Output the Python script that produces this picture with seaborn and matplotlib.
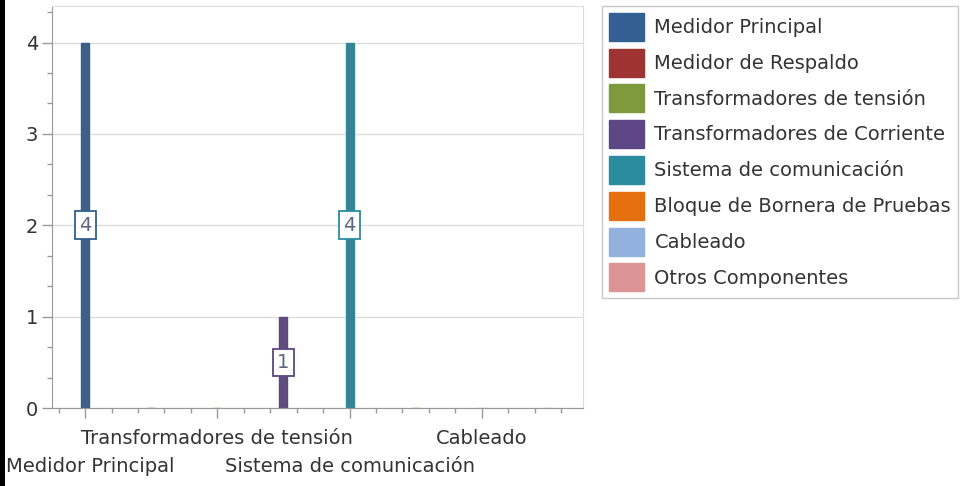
import numpy as np
import pandas as pd
import matplotlib
matplotlib.use('Agg')
import matplotlib.pyplot as plt
import matplotlib.transforms as mtrans
from matplotlib.ticker import MultipleLocator, FixedLocator
from matplotlib.patches import Rectangle
import seaborn as sns

# data
categorias = ['Medidor Principal', 'Medidor de Respaldo', 'Transformadores de tensión',
              'Transformadores de Corriente', 'Sistema de comunicación',
              'Bloque de Bornera de Pruebas', 'Cableado', 'Otros Componentes']
valores = [4, 0, 0, 1, 4, 0, 0, 0]
colores = ['#335f92', '#9e3431', '#7e9a3c', '#5d4684', '#2b8ca0', '#e5700f', '#93b1dd', '#dc9594']
ticks_x = [0, 2, 4, 6]
etiquetas_x = ['Medidor Principal', 'Transformadores de tensión', 'Sistema de comunicación', 'Cableado']

df = pd.DataFrame({'categoria': categorias, 'valor': valores})

sns.set_style('white')
plt.rcParams['font.family'] = ['DejaVu Sans']
fs = 14

fig = plt.figure(figsize=(9.73, 4.86), dpi=100)
ax = fig.add_axes([52 / 973, 1 - 408 / 486, (583 - 52) / 973, (408 - 6) / 486])

sns.barplot(data=df, x='categoria', y='valor', hue='categoria', order=categorias,
            hue_order=categorias, palette=colores, dodge=False, width=0.12,
            legend=False, ax=ax)
for p, c in zip(ax.patches, colores):
    p.set_edgecolor(c)
    p.set_linewidth(1)

# value boxes in the middle of each bar
for i, (v, c) in enumerate(zip(valores, colores)):
    if v > 0:
        ax.text(i, v / 2, str(v), ha='center', va='center', fontsize=fs, color='#5a6680',
                bbox=dict(boxstyle='square,pad=0.22', fc='white', ec=c, lw=1.3))

ax.set_xlim(-0.5, 7.53)
ax.set_ylim(0, 4.4)
ax.set_xlabel('')
ax.set_ylabel('')

ax.yaxis.set_major_locator(FixedLocator([0, 1, 2, 3, 4]))
ax.yaxis.set_minor_locator(MultipleLocator(1 / 3))
ax.xaxis.set_major_locator(FixedLocator(ticks_x))
ax.xaxis.set_minor_locator(MultipleLocator(0.4))
ax.set_xticklabels([''] * len(ticks_x))

# staggered category labels (two rows); first one is kept inside the image like the original
trans = mtrans.blended_transform_factory(ax.transData, ax.transAxes)
for k, (xt, t) in enumerate(zip(ticks_x, etiquetas_x)):
    if k == 0:
        fig.text(6 / 973, 1 - 466 / 486, t, ha='left', va='center', fontsize=fs, color='#333333')
        continue
    yy = -58 / 402 if k % 2 == 0 else -30 / 402
    ax.text(xt, yy, t, transform=trans, ha='center', va='center', fontsize=fs, color='#333333')

ax.tick_params(axis='x', which='major', length=7, width=1, color='#999999', direction='out')
ax.tick_params(axis='x', which='minor', length=3.5, width=1, color='#999999', direction='out')
ax.tick_params(axis='y', which='major', length=7, width=1, color='#999999', direction='out',
               labelcolor='#333333', labelsize=fs, pad=3)
ax.tick_params(axis='y', which='minor', length=3.5, width=1, color='#999999', direction='out')
ax.tick_params(bottom=True, left=True, which='both')

ax.grid(axis='y', which='major', color='#dddddd', lw=1)
ax.set_axisbelow(True)
for s in ['top', 'right']:
    ax.spines[s].set_color('#dddddd')
for s in ['left', 'bottom']:
    ax.spines[s].set_color('#999999')

handles = [Rectangle((0, 0), 1, 1, fc=c, ec=c) for c in colores]
leg = fig.legend(handles, categorias, loc='upper left', bbox_to_anchor=(602 / 973, 1 - 6 / 486),
                 frameon=True, fancybox=False, edgecolor='#bbbbbb', fontsize=fs,
                 handlelength=1.8, handleheight=1.84, labelspacing=0.4, handletextpad=0.55,
                 borderpad=0.35, borderaxespad=0)
leg.get_frame().set_linewidth(1)
for t in leg.get_texts():
    t.set_color('#333333')

# dark strip at left edge of the screenshot
fig.patches.append(Rectangle((0, 0), 5 / 973, 1, transform=fig.transFigure, fc='black', ec='none'))

fig.savefig('out.png', dpi=100)
